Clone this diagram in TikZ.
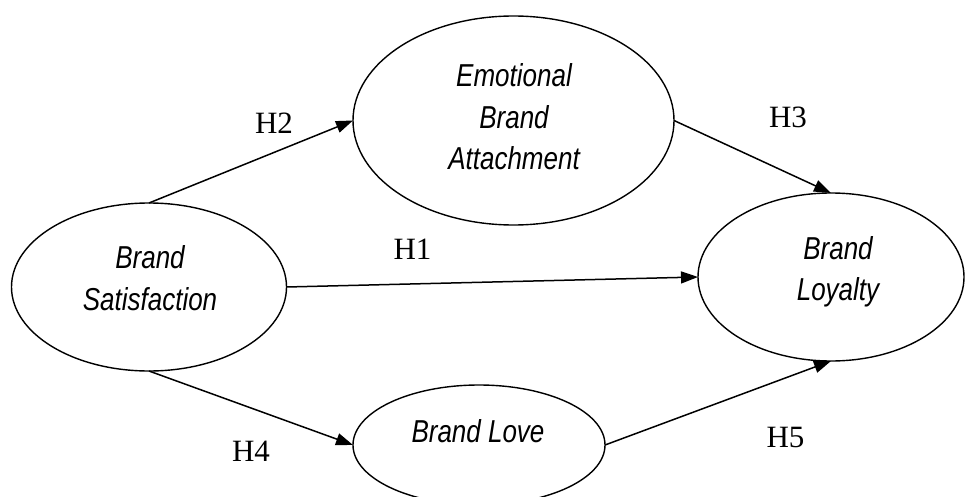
\documentclass[tikz,border=0pt]{standalone}
\usepackage{fontspec}
\setmainfont{Liberation Serif}
\newfontfamily\narit[FakeStretch=0.82]{Liberation Sans Italic}
\usetikzlibrary{shapes.geometric,arrows.meta}
\tikzset{
  ell/.style={ellipse, draw, line width=1.4pt, inner sep=0pt, outer sep=0pt},
  lbl/.style={align=center, inner sep=0pt, font=\narit\fontsize{31.7}{41.5}\selectfont},
  hyp/.style={inner sep=0pt, font=\fontsize{31}{36}\selectfont},
  arr/.style={line width=1.5pt, -{Triangle[length=17pt,width=12pt]}}
}
\begin{document}
\begin{tikzpicture}[x=1pt,y=-1pt]
\useasboundingbox (0,0) rectangle (965,497);
\node[ell, minimum width=275pt, minimum height=168pt] (bs) at (149,287) {};
\node[ell, minimum width=321pt, minimum height=209pt] (eba) at (513.5,120.5) {};
\node[ell, minimum width=266pt, minimum height=168pt] (bl) at (831,277) {};
\node[ell, minimum width=252pt, minimum height=120pt] (love) at (479,445) {};
\node[lbl] (bst) at (150,278) {Brand\\Satisfaction};
\node[lbl] (ebat) at (514,117) {Emotional\\Brand\\Attachment};
\node[lbl] (blt) at (838,272) {Brand\\Loyalty};
\node[lbl] (lovet) at (478,431.5) {Brand Love};
\draw[arr] (bs.north) -- (eba.west);
\draw[arr] (bs.east) -- (bl.west);
\draw[arr] (eba.east) -- (bl.north);
\draw[arr] (bs.south) -- (love.west);
\draw[arr] (love.east) -- (bl.south);
\node[hyp] (h1) at (412.5,249) {H1};
\node[hyp] (h2) at (274,123) {H2};
\node[hyp] (h3) at (788,117) {H3};
\node[hyp] (h4) at (251,451) {H4};
\node[hyp] (h5) at (785.5,437) {H5};
\end{tikzpicture}
\end{document}
